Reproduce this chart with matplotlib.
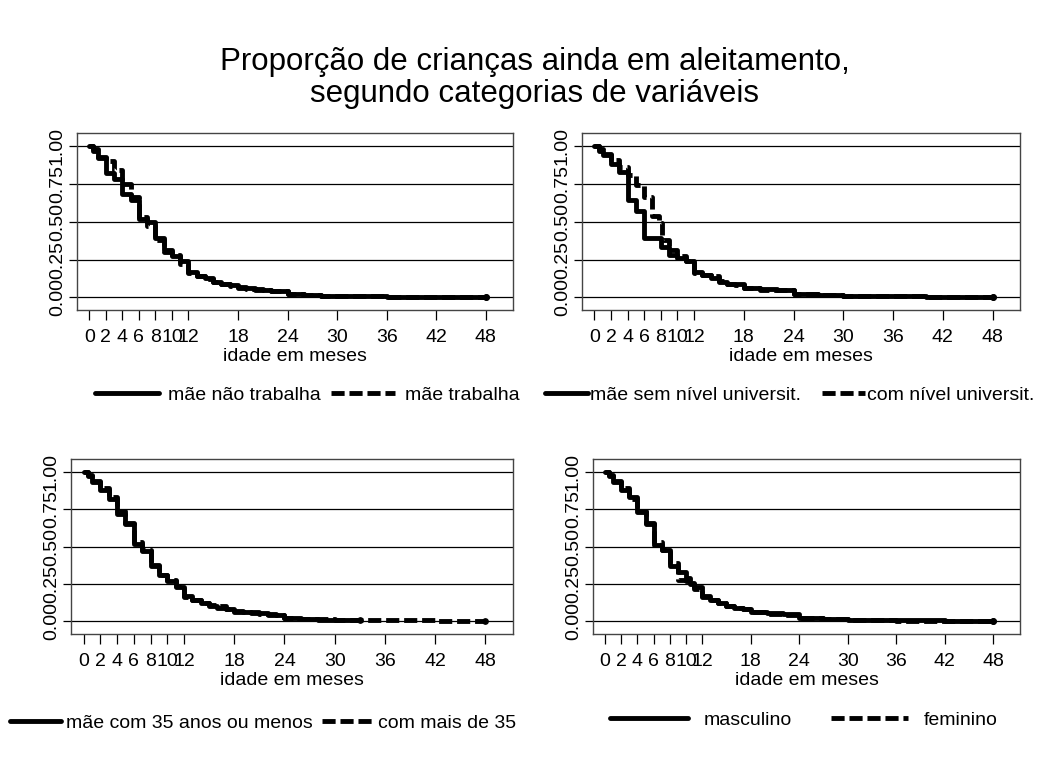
import matplotlib
matplotlib.use('Agg')
import matplotlib.pyplot as plt

plt.rcParams['font.family'] = ['Liberation Sans', 'DejaVu Sans']

title = 'Proporção de crianças ainda em aleitamento,\nsegundo categorias de variáveis'
xticks = [0, 2, 4, 6, 8, 10, 12, 18, 24, 30, 36, 42, 48]
yticks = [0, 0.25, 0.5, 0.75, 1.0]
ytick_labels = ['0.00', '0.25', '0.50', '0.75', '1.00']

# panel 1: trabalho da mae
t_nao_trab = [0, 0.5, 1, 2, 3, 4, 5, 6, 7, 8, 9, 10, 11, 12, 13, 14, 15, 16, 17,
              18, 19, 20, 21, 22, 23, 24, 26, 28, 30, 33, 36, 39, 42, 48]
s_nao_trab = [1.00, 0.98, 0.93, 0.82, 0.78, 0.68, 0.64, 0.52, 0.50, 0.39, 0.31,
              0.27, 0.24, 0.17, 0.14, 0.13, 0.10, 0.09, 0.08, 0.065, 0.06, 0.055,
              0.05, 0.045, 0.04, 0.02, 0.018, 0.012, 0.01, 0.008, 0.005, 0.004,
              0.002, 0.002]
t_trab = [0, 0.5, 1, 2, 3, 4, 5, 6, 7, 8, 9, 10, 11, 12, 13, 14, 15, 16, 17,
          18, 19, 20, 22, 24, 26, 28, 30, 33, 36, 39, 42, 48]
s_trab = [1.00, 0.97, 0.92, 0.90, 0.84, 0.75, 0.66, 0.53, 0.47, 0.38, 0.30,
          0.28, 0.22, 0.16, 0.14, 0.12, 0.10, 0.085, 0.075, 0.06, 0.055, 0.05,
          0.04, 0.02, 0.015, 0.01, 0.008, 0.006, 0.004, 0.003, 0.002, 0.002]

# panel 2: escolaridade
t_sem_univ = [0, 0.5, 1, 2, 3, 4, 5, 6, 8, 9, 10, 11, 12, 13, 14, 15, 16, 17,
              18, 20, 22, 24, 27, 30, 36, 40, 48]
s_sem_univ = [1.00, 0.97, 0.94, 0.88, 0.83, 0.64, 0.57, 0.39, 0.33, 0.28, 0.26,
              0.24, 0.17, 0.15, 0.13, 0.10, 0.09, 0.085, 0.06, 0.055, 0.05, 0.02,
              0.018, 0.01, 0.008, 0.005, 0.005]
t_com_univ = [0, 0.5, 1, 2, 3, 4, 5, 6, 7, 7.8, 8.2, 9, 10, 11, 12, 13, 14, 15,
              16, 17, 18, 20, 22, 24, 27, 30, 36, 40, 48]
s_com_univ = [1.00, 0.98, 0.95, 0.91, 0.86, 0.81, 0.74, 0.66, 0.54, 0.49, 0.38,
              0.31, 0.27, 0.24, 0.16, 0.15, 0.14, 0.11, 0.09, 0.08, 0.06, 0.05,
              0.05, 0.02, 0.015, 0.01, 0.008, 0.004, 0.004]

# panel 3: idade da mae
t_menos35 = [0, 0.5, 1, 2, 3, 4, 5, 6, 7, 8, 9, 10, 11, 12, 13, 14, 15, 16, 17,
             18, 20, 22, 23, 24, 26, 28, 30, 33]
s_menos35 = [1.00, 0.97, 0.93, 0.88, 0.82, 0.72, 0.65, 0.52, 0.47, 0.37, 0.31,
             0.27, 0.23, 0.17, 0.14, 0.12, 0.10, 0.09, 0.085, 0.06, 0.055, 0.045,
             0.04, 0.02, 0.015, 0.012, 0.01, 0.008]
t_mais35 = [0, 0.5, 1, 2, 3, 4, 5, 6, 7, 8, 9, 10, 11, 12, 13, 14, 15, 16, 17,
            18, 19, 21, 23, 24, 25, 30, 36, 42, 48]
s_mais35 = [1.00, 0.98, 0.94, 0.89, 0.83, 0.74, 0.66, 0.53, 0.48, 0.38, 0.31,
            0.28, 0.24, 0.16, 0.14, 0.12, 0.11, 0.10, 0.08, 0.07, 0.06, 0.05,
            0.04, 0.025, 0.015, 0.012, 0.01, 0.005, 0.005]

# panel 4: sexo
t_sexo = [0, 0.5, 1, 2, 3, 4, 5, 6, 7, 8, 9, 10, 10.5, 11, 12, 13, 14, 15, 16,
          17, 18, 20, 22, 24, 27, 30, 36, 42, 48]
s_masc = [1.00, 0.98, 0.93, 0.88, 0.83, 0.73, 0.65, 0.51, 0.48, 0.37, 0.33,
          0.29, 0.25, 0.23, 0.17, 0.14, 0.12, 0.10, 0.09, 0.08, 0.06, 0.055,
          0.05, 0.02, 0.015, 0.01, 0.008, 0.004, 0.003]
s_fem = [1.00, 0.97, 0.94, 0.89, 0.82, 0.74, 0.66, 0.53, 0.48, 0.39, 0.28,
         0.27, 0.26, 0.22, 0.16, 0.14, 0.12, 0.10, 0.09, 0.08, 0.06, 0.05,
         0.045, 0.02, 0.015, 0.01, 0.006, 0.004, 0.003]

LW = 3.5
DASH = (2.7, 1.0)


def plot_km(ax, t, s, label, dashed=False):
    kw = dict(where='post', color='black', linewidth=LW, label=label,
              solid_capstyle='round', dash_capstyle='butt')
    if dashed:
        kw['dashes'] = DASH
    line = ax.step(t, s, **kw)[0]
    # round dot at the end of every curve
    ax.plot(t[-1], s[-1], 'o', color='black', markersize=LW * 1.1)
    return line


def style_axes(ax):
    ax.set_xlim(-1.5, 51.3)
    ax.set_ylim(-0.084, 1.086)
    ax.set_xticks(xticks)
    ax.set_yticks(yticks)
    ax.set_yticklabels(ytick_labels, rotation=90, va='center')
    ax.yaxis.grid(True, color='black', linewidth=0.9)
    ax.set_axisbelow(True)
    ax.tick_params(axis='x', direction='out', length=7, width=0.9,
                   labelsize=14, pad=7)
    ax.tick_params(axis='y', direction='out', length=6, width=0.9,
                   labelsize=14, pad=2)
    for sp in ax.spines.values():
        sp.set_color('#444444')
        sp.set_linewidth(1.0)
    ax.set_xlabel('idade em meses', fontsize=14, labelpad=1)


fig = plt.figure(figsize=(10.46, 7.72), dpi=100)

ax1 = fig.add_axes([0.0736, 0.5984, 0.4168, 0.2293])
ax2 = fig.add_axes([0.5564, 0.5984, 0.4187, 0.2293])
ax3 = fig.add_axes([0.0679, 0.1788, 0.4225, 0.2266])
ax4 = fig.add_axes([0.5669, 0.1788, 0.4082, 0.2266])

h1 = plot_km(ax1, t_nao_trab, s_nao_trab, 'mãe não trabalha')
h2 = plot_km(ax1, t_trab, s_trab, 'mãe trabalha', dashed=True)
h3 = plot_km(ax2, t_sem_univ, s_sem_univ, 'mãe sem nível universit.')
h4 = plot_km(ax2, t_com_univ, s_com_univ, 'com nível universit.', dashed=True)
h6 = plot_km(ax3, t_mais35, s_mais35, 'com mais de 35', dashed=True)
h5 = plot_km(ax3, t_menos35, s_menos35, 'mãe com 35 anos ou menos')
h7 = plot_km(ax4, t_sexo, s_masc, 'masculino')
h8 = plot_km(ax4, t_sexo, s_fem, 'feminino', dashed=True)

for ax in (ax1, ax2, ax3, ax4):
    style_axes(ax)

leg_kw = dict(loc='center', frameon=False, fontsize=14, ncol=2, borderpad=0,
              borderaxespad=0)
fig.legend([h1, h2], ['mãe não trabalha', 'mãe trabalha'],
           bbox_to_anchor=(0.2935, 0.4883), handlelength=3.3,
           handletextpad=0.5, columnspacing=0.5, **leg_kw)
fig.legend([h3, h4], ['mãe sem nível universit.', 'com nível universit.'],
           bbox_to_anchor=(0.755, 0.4883), handlelength=2.2,
           handletextpad=0.1, columnspacing=1.1, **leg_kw)
fig.legend([h5, h6], ['mãe com 35 anos ou menos', 'com mais de 35'],
           bbox_to_anchor=(0.2514, 0.0635), handlelength=2.6,
           handletextpad=0.25, columnspacing=0.5, **leg_kw)
fig.legend([h7, h8], ['masculino', 'feminino'],
           bbox_to_anchor=(0.7686, 0.0674), handlelength=4.0,
           handletextpad=0.8, columnspacing=2.0, **leg_kw)

fig.text(0.511, 1 - 78 / 772, title, ha='center', va='center', fontsize=22.5,
         linespacing=1.1)

fig.savefig('out.png', dpi=100)
